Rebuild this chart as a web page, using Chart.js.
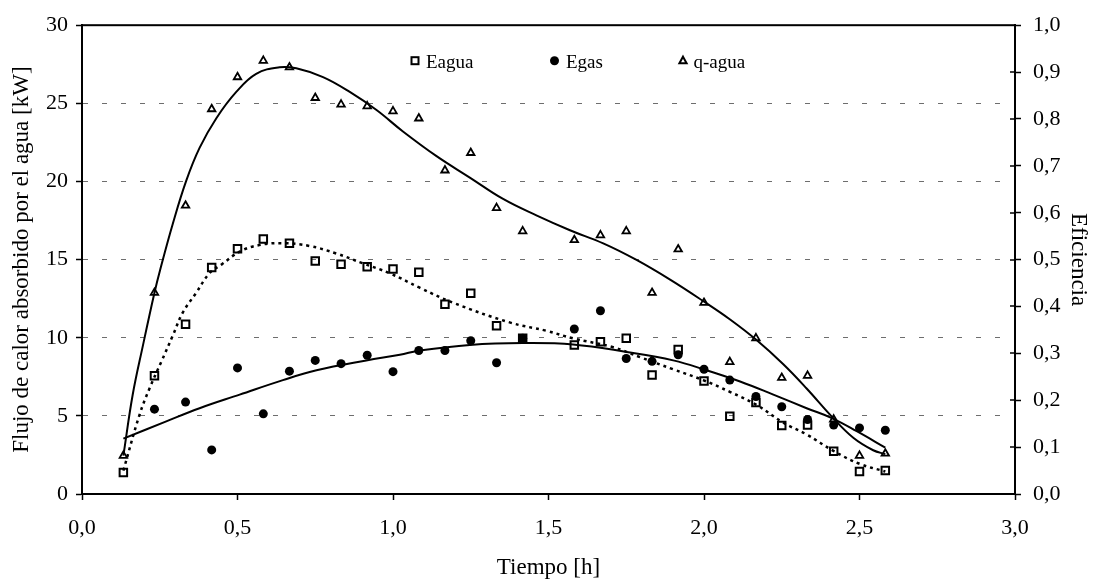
<!DOCTYPE html>
<html>
<head>
<meta charset="utf-8">
<script src="https://cdn.jsdelivr.net/npm/chart.js@4/dist/chart.umd.min.js"></script>
<style>
html,body{margin:0;padding:0;background:#fff;}
canvas{display:block;}
</style>
</head>
<body>
<canvas id="c" width="1094" height="583"></canvas>
<script>
// ---- Data ----
const tiempo = [0.133,0.233,0.333,0.417,0.5,0.583,0.667,0.75,0.833,0.917,1.0,1.083,1.167,1.25,1.333,1.417,1.583,1.667,1.75,1.833,1.917,2.0,2.083,2.167,2.25,2.333,2.417,2.5,2.583];
const eagua = [0.046,0.252,0.362,0.483,0.523,0.544,0.535,0.497,0.490,0.485,0.480,0.473,0.405,0.428,0.359,0.332,0.318,0.325,0.332,0.254,0.308,0.241,0.166,0.195,0.146,0.147,0.091,0.048,0.050];
const tiempoGas = [0.233,0.333,0.417,0.5,0.583,0.667,0.75,0.833,0.917,1.0,1.083,1.167,1.25,1.333,1.417,1.583,1.667,1.75,1.833,1.917,2.0,2.083,2.167,2.25,2.333,2.417,2.5,2.583];
const egas = [0.181,0.196,0.094,0.269,0.171,0.262,0.285,0.278,0.296,0.261,0.306,0.306,0.327,0.280,0.332,0.352,0.391,0.289,0.283,0.297,0.266,0.243,0.208,0.186,0.159,0.147,0.141,0.136];
const qagua = [2.45,12.88,18.46,24.63,26.68,27.73,27.31,25.35,24.93,24.82,24.5,24.04,20.71,21.83,18.31,16.82,16.25,16.56,16.82,12.88,15.66,12.24,8.45,9.97,7.44,7.57,4.77,2.45,2.59];

// trend lines
const trendQX = [0.133,0.163,0.196,0.233,0.252,0.292,0.335,0.378,0.432,0.496,0.560,0.635,0.689,0.775,0.861,0.947,1.032,1.140,1.247,1.354,1.461,1.569,1.676,1.783,1.891,1.997,2.085,2.169,2.255,2.330,2.411,2.480,2.544,2.583];
const trendQ  = [2.45,6.35,9.51,12.88,14.4,17.3,20.04,22.15,24.05,25.73,26.89,27.31,27.24,26.68,25.73,24.57,23.2,21.62,20.25,18.88,17.83,16.88,16.04,14.98,13.72,12.35,11.15,9.85,8.3,6.75,4.95,3.6,2.8,2.55];
const trendEaguaX = [0.133,0.185,0.217,0.255,0.292,0.324,0.367,0.410,0.45,0.507,0.570,0.646,0.732,0.818,0.903,0.989,1.086,1.193,1.375,1.494,1.579,1.708,1.794,1.901,1.997,2.083,2.169,2.255,2.330,2.416,2.502,2.583];
const trendEagua  = [0.050,0.169,0.225,0.282,0.338,0.387,0.429,0.471,0.490,0.517,0.531,0.535,0.529,0.513,0.492,0.471,0.440,0.408,0.366,0.348,0.332,0.313,0.292,0.266,0.243,0.218,0.190,0.152,0.127,0.092,0.064,0.048];
const trendEgasX = [0.133,0.271,0.378,0.507,0.646,0.754,0.914,1.022,1.086,1.247,1.418,1.579,1.751,1.901,2.008,2.116,2.223,2.330,2.411,2.491,2.583];
const trendEgas  = [0.118,0.155,0.183,0.212,0.243,0.264,0.285,0.297,0.306,0.318,0.322,0.319,0.303,0.285,0.264,0.240,0.212,0.183,0.162,0.134,0.099];

const seriesLabels = ['Eagua','Egas','q-agua'];
const xTitle = 'Tiempo [h]';
const yTitle = 'Flujo de calor absorbido por el agua [kW]';
const y1Title = 'Eficiencia';

const pts = (xs, ys) => xs.map((x, i) => ({x: x, y: ys[i]}));
const fmt1 = v => Number(v).toFixed(1).replace('.', ',');
const FONT = 'Liberation Serif';

const legendAndFrame = {
  id: 'legendAndFrame',
  afterDraw(chart) {
    const {ctx, chartArea: a, scales} = chart;
    ctx.save();
    ctx.strokeStyle = '#000';
    ctx.lineWidth = 2;
    ctx.strokeRect(a.left, a.top, a.right - a.left, a.bottom - a.top);
    // inner tick marks on the right axis
    const y1 = scales.y1;
    ctx.lineWidth = 1.5;
    y1.ticks.forEach(t => {
      if (t.value > 0.001 && t.value < 0.999) {
        const py = Math.round(y1.getPixelForValue(t.value));
        ctx.beginPath(); ctx.moveTo(a.right - 5, py); ctx.lineTo(a.right, py); ctx.stroke();
      }
    });
    // legend inside plot
    const items = [
      {ds: chart.data.datasets[0], mx: a.left + 333, tx: a.left + 344},
      {ds: chart.data.datasets[1], mx: a.left + 472.5, tx: a.left + 484},
      {ds: chart.data.datasets[2], mx: a.left + 601, tx: a.left + 611.5}
    ];
    const my = a.top + 35.5;
    items.forEach(it => {
      const st = it.ds.pointStyle;
      ctx.lineWidth = 2;
      ctx.strokeStyle = '#000';
      ctx.fillStyle = '#000';
      if (st === 'rect') {
        ctx.strokeRect(it.mx - 3.5, my - 3.5, 7, 7);
      } else if (st === 'circle') {
        ctx.beginPath(); ctx.arc(it.mx, my, 4.5, 0, Math.PI * 2); ctx.fill();
      } else {
        ctx.beginPath();
        ctx.moveTo(it.mx, my - 4);
        ctx.lineTo(it.mx + 3.6, my + 2.6);
        ctx.lineTo(it.mx - 3.6, my + 2.6);
        ctx.closePath(); ctx.stroke();
      }
      ctx.font = '19px "' + FONT + '"';
      ctx.textBaseline = 'alphabetic';
      ctx.textAlign = 'left';
      ctx.fillText(it.ds.label, it.tx, my + 7.5);
    });
    ctx.restore();
  }
};

new Chart(document.getElementById('c'), {
  type: 'scatter',
  data: {
    datasets: [
      {label: seriesLabels[0], data: pts(tiempo, eagua), yAxisID: 'y1', pointStyle: 'rect',
       pointRadius: 5.3, pointBorderWidth: 2, borderColor: '#000', backgroundColor: 'rgba(0,0,0,0)', order: 3},
      {label: seriesLabels[1], data: pts(tiempoGas, egas), yAxisID: 'y1', pointStyle: 'circle',
       pointRadius: 4.5, pointBorderWidth: 0, borderColor: '#000', backgroundColor: '#000', order: 4},
      {label: seriesLabels[2], data: pts(tiempo, qagua), yAxisID: 'y', pointStyle: 'triangle',
       pointRadius: 4.3, pointBorderWidth: 1.8, borderColor: '#000', backgroundColor: 'rgba(0,0,0,0)', order: 2},
      {label: 'trend Eagua', data: pts(trendEaguaX, trendEagua), yAxisID: 'y1', showLine: true,
       pointRadius: 0, borderColor: '#000', borderWidth: 2.5, borderDash: [3, 4], tension: 0.4, order: 1},
      {label: 'trend Egas', data: pts(trendEgasX, trendEgas), yAxisID: 'y1', showLine: true,
       pointRadius: 0, borderColor: '#000', borderWidth: 2, tension: 0.4, order: 1},
      {label: 'trend q-agua', data: pts(trendQX, trendQ), yAxisID: 'y', showLine: true,
       pointRadius: 0, borderColor: '#000', borderWidth: 2, tension: 0.4, order: 1}
    ]
  },
  options: {
    responsive: false,
    devicePixelRatio: 1,
    animation: false,
    layout: {padding: {top: 19, left: 0, right: 0, bottom: 0}},
    plugins: {legend: {display: false}, tooltip: {enabled: false}},
    elements: {point: {hoverRadius: 0}},
    scales: {
      x: {
        type: 'linear', min: 0, max: 3,
        afterFit: s => { s.height = 89; },
        ticks: {stepSize: 0.5, color: '#000', padding: 15, font: {family: FONT, size: 22}, callback: v => fmt1(v), maxRotation: 0},
        grid: {drawOnChartArea: false, tickLength: 6, tickColor: '#000', tickWidth: 1.5},
        border: {color: '#000', width: 2},
        title: {display: true, text: xTitle, color: '#000', font: {family: FONT, size: 23}, padding: {top: 0, bottom: 1}}
      },
      y: {
        type: 'linear', position: 'left', min: 0, max: 30,
        afterFit: s => { s.width = 82; },
        ticks: {stepSize: 5, color: '#000', padding: 8, font: {family: FONT, size: 22}},
        grid: {
          color: c => (c.tick && (c.tick.value === 0 || c.tick.value === 30)) ? 'rgba(0,0,0,0)' : '#6e6e6e',
          lineWidth: 1, tickLength: 6, tickColor: '#000', tickWidth: 1.5, tickBorderDash: []
        },
        border: {color: '#000', width: 2, dash: [5, 14]},
        title: {display: true, text: yTitle, color: '#000', font: {family: FONT, size: 23}, padding: {top: 8, bottom: 0}}
      },
      y1: {
        type: 'linear', position: 'right', min: 0, max: 1,
        afterFit: s => { s.width = 79; },
        ticks: {stepSize: 0.1, color: '#000', padding: 12, font: {family: FONT, size: 22}, callback: v => fmt1(v)},
        grid: {drawOnChartArea: false, tickLength: 6, tickColor: '#000', tickWidth: 1.5},
        border: {color: '#000', width: 2},
        title: {display: true, text: y1Title, color: '#000', font: {family: FONT, size: 23}, padding: {top: 2, bottom: 0}}
      }
    }
  },
  plugins: [legendAndFrame]
});
</script>
</body>
</html>
